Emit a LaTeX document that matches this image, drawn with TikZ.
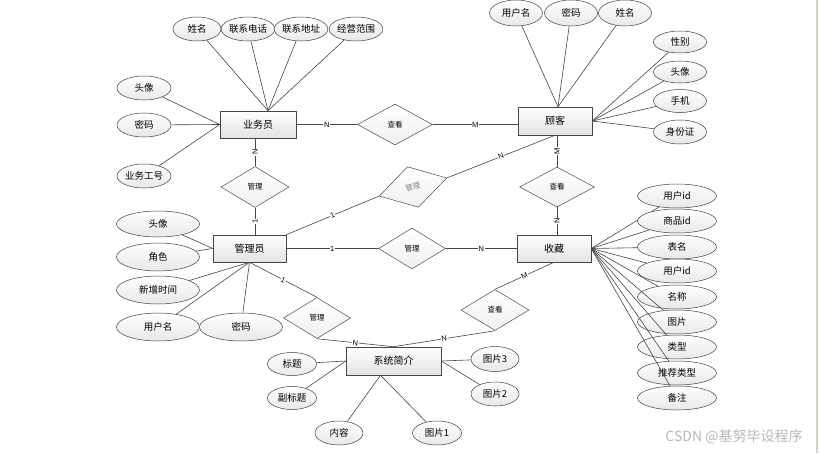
\documentclass[tikz,border=0pt]{standalone}
\usepackage{fontspec}
\setmainfont{Noto Sans CJK SC}
\newfontfamily\latinsans{Liberation Sans}
\usetikzlibrary{shapes.geometric,calc,shadows}
\definecolor{edgeline}{RGB}{214,210,198}
\begin{document}
\begin{tikzpicture}[x=1pt,y=-1pt,
  entity/.style={draw=gray!55!black, line width=0.6pt, top color=white, bottom color=gray!22,
    minimum width=#1, minimum height=27, inner sep=0, font=\fontsize{10}{12}\selectfont,
    drop shadow={shadow xshift=1pt,shadow yshift=-1pt,opacity=0.25}},
  entity/.default=74,
  attr/.style={ellipse, draw=gray!50!black, line width=0.5pt, top color=white, bottom color=gray!18,
    minimum width=#1, minimum height=24, inner sep=0, font=\fontsize{9.5}{11}\selectfont},
  attr/.default=53,
  rel/.style={diamond, draw=gray!60!black, line width=0.5pt, top color=white, bottom color=gray!12,
    minimum width=68, minimum height=41, inner sep=0, font=\fontsize{7.5}{9}\selectfont},
  link/.style={draw=gray!55!black, line width=0.6pt},
  card/.style={fill=white, inner sep=0.6pt, font=\latinsans\fontsize{7.5}{9}\selectfont},
]
\path[use as bounding box, fill=white] (0,0) rectangle (820,453);
\draw[edgeline, line width=1.5pt] (817,0) -- (817,453);

% entities
\node[entity=76] (yw) at (258,124.5) {业务员};
\node[entity=74, minimum height=28] (gk) at (555,121) {顾客};
\node[entity=73] (gly) at (249.5,248.5) {管理员};
\node[entity=74] (sc) at (554,248.5) {收藏};
\node[entity=95, minimum height=28] (xt) at (393.5,361) {系统简介};

% relations
\node[rel, minimum width=75] (ck1) at (395,124.5) {查看};
\node[rel] (gl1) at (255,187) {管理};
\node[rel, minimum width=70, minimum height=42, rotate=15, text=gray] (gl2) at (413,187) {管理};
\node[rel, minimum width=75, minimum height=40] (ck2) at (557,187) {查看};
\node[rel, minimum width=67] (gl3) at (412,248.5) {管理};
\node[rel, minimum width=67] (gl4) at (317,318) {管理};
\node[rel] (ck3) at (495,310) {查看};

% relation links
\draw[link] (yw.east) -- node[card]{N} (ck1.west);
\draw[link] (ck1.east) -- node[card]{M} (ck1.east -| gk.west);
\draw[link] (gl1.north) -- node[card, rotate=90]{N} (gl1.north |- yw.south);
\draw[link] (gl1.south) -- node[card, rotate=90]{1} (gl1.south |- gly.north);
\draw[link] (gly.north east) -- node[card, sloped]{1} (gl2.west);
\draw[link] (gl2.east) -- node[card, sloped]{N} (gk.south);
\draw[link] (ck2.north) -- node[card, rotate=90]{M} (ck2.north |- gk.south);
\draw[link] (ck2.south) -- node[card, rotate=90]{N} (ck2.south |- sc.north);
\draw[link] (gly.east) -- node[card]{1} (gl3.west);
\draw[link] (gl3.east) -- node[card]{N} (sc.west);
\draw[link] (gly.south) -- node[card, sloped]{1} (gl4.north);
\draw[link] (gl4.south) -- node[card, sloped]{N} (xt.north);
\draw[link] (sc.south) -- node[card, sloped]{M} (ck3.north);
\draw[link] (ck3.south) -- node[card, sloped]{N} (xt.north);

% 业务员 attributes
\coordinate (ywtop) at ($(yw.north)+(10,0)$);
\node[attr=48] (yw1) at (197,29) {姓名};
\node[attr=48] (yw2) at (248,29) {联系电话};
\node[attr=52] (yw3) at (301,29) {联系地址};
\node[attr=52] (yw4) at (356,29) {经营范围};
\node[attr=54] (yw5) at (144,88) {头像};
\node[attr=54] (yw6) at (144,125) {密码};
\node[attr=54] (yw7) at (144,176) {业务工号};
\foreach \a in {yw1,yw2,yw3,yw4} \draw[link] (\a) -- (ywtop);
\foreach \a in {yw5,yw6,yw7} \draw[link] (\a) -- (yw.west);

% 顾客 attributes
\coordinate (gktop) at ($(gk.north)+(3,0)$);
\node[attr, minimum height=26] (gk1) at (516,13) {用户名};
\node[attr, minimum height=26] (gk2) at (571,13) {密码};
\node[attr, minimum height=26] (gk3) at (625,13) {姓名};
\node[attr, minimum height=22] (gk4) at (680,42) {性别};
\node[attr, minimum height=22] (gk5) at (680,72) {头像};
\node[attr, minimum height=23] (gk6) at (680,101) {手机};
\node[attr] (gk7) at (680,132) {身份证};
\foreach \a in {gk1,gk2,gk3} \draw[link] (\a) -- (gktop);
\foreach \a in {gk4,gk5,gk6,gk7} \draw[link] (\a) -- (gk.east);

% 管理员 attributes
\node[attr=83, minimum height=26] (gy1) at (158,224) {头像};
\node[attr=83, minimum height=28] (gy2) at (158,257) {角色};
\node[attr=83, minimum height=28] (gy3) at (158,290) {新增时间};
\node[attr=83, minimum height=28] (gy4) at (158,327) {用户名};
\node[attr=83, minimum height=28] (gy5) at (241,327) {密码};
\foreach \a in {gy1,gy2} \draw[link] (\a) -- (gly.west);
\foreach \a in {gy3,gy4,gy5} \draw[link] (\a) -- (gly.south);

% 收藏 attributes
\foreach \n/\y/\t in {s1/196/用户id, s2/221/商品id, s3/247/表名, s4/271/用户id, s5/297/名称,
                      s6/322/图片, s7/347/类型, s8/373/推荐类型, s9/398/备注} {
  \node[attr=79] (\n) at (677,\y) {\t};
  \draw[link] (sc.east) -- (\n);
}

% 系统简介 attributes
\coordinate (xtbot) at ($(xt.south)+(-13,0)$);
\node[attr=49, minimum height=23] (x1) at (292,364) {标题};
\node[attr=49, minimum height=23] (x2) at (292,398) {副标题};
\node[attr=48] (x3) at (339,433) {内容};
\node[attr=49] (x4) at (437,433) {图片1};
\node[attr=48, minimum height=25] (x5) at (495,359) {图片3};
\node[attr=48] (x6) at (495,394) {图片2};
\foreach \a in {x1,x2} \draw[link] (\a) -- (xt.west);
\foreach \a in {x3,x4} \draw[link] (\a) -- (xtbot);
\foreach \a in {x5,x6} \draw[link] (\a) -- (xt.east);

% watermark
\node[text=gray!55, font=\fontsize{14}{16}\selectfont, inner sep=0] (wm) at (734,437) {CSDN @基努毕设程序};
\end{tikzpicture}
\end{document}
